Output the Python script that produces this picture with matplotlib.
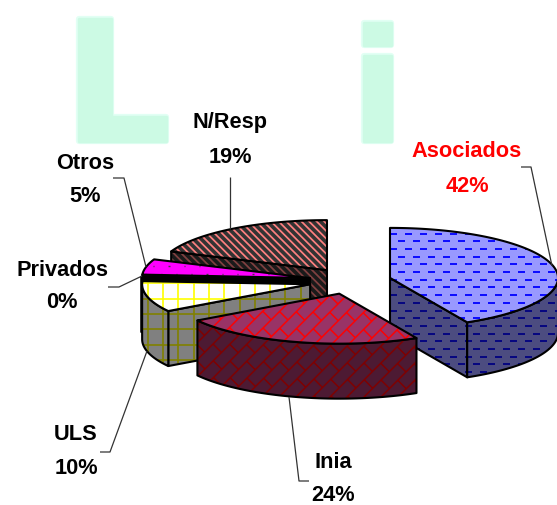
import numpy as np
import matplotlib
matplotlib.use("Agg")
import matplotlib.pyplot as plt
import matplotlib.patheffects as pe
from matplotlib.patches import Polygon
from matplotlib.collections import LineCollection

categories = ["Asociados", "Inia", "ULS", "Privados", "Otros", "N/Resp"]
values = [42.4, 23.6, 10, 0.1, 5, 18.9]
percent_labels = ["42%", "24%", "10%", "0%", "5%", "19%"]

fig = plt.figure(figsize=(5.57, 5.06), dpi=100)
ax = fig.add_axes([0, 0, 1, 1])
ax.set_xlim(0, 557); ax.set_ylim(506, 0); ax.axis("off")

# watermark letters
for ch, x, ha, fs in [("L", 64, "left", 120), ("i", 377.5, "center", 112)]:
    ax.text(x, 142, ch, fontsize=fs, family="DejaVu Sans", weight="bold", color="#CCFAE4",
            ha=ha, va="baseline", zorder=0,
            path_effects=[pe.withStroke(linewidth=4.5, foreground="#E2FFF4"),
                          pe.withStroke(linewidth=2.5, foreground="#CCFAE4")])

CX, CY, RX, RY, DEPTH = 350, 282, 168, 50, 55
EXPLODE = 0.245

X0, X1, Y0, Y1 = 0, 557, 0, 506

def h_dashes(color):
    segs = []
    for r, y in enumerate(np.arange(Y0 + 3.5, Y1, 7.7)):
        off = 7.5 * (r % 2)
        for x in np.arange(X0 + off, X1, 15):
            segs.append([(x, y), (x + 7, y)])
    return segs, 1.3, color

def grid(color):
    segs = [[(x, Y0), (x, Y1)] for x in np.arange(X0 + 10, X1, 15.3)]
    segs += [[(X0, y), (X1, y)] for y in np.arange(Y0 + 9, Y1, 15.3)]
    return segs, 1.2, color

def stripes(color):
    segs = [[(x, Y0), (x + 600, 600)] for x in np.arange(-700, X1, 7.6)]
    return segs, 2.6, color

def brick(color):
    segs = []
    row = 17.0
    period = 33.0
    for r, s in enumerate(np.arange(-20, 1100, row)):
        segs.append([(s, 0), (s - 600, 600)])
        off = period / 2 * (r % 2)
        for d in np.arange(-660 + off, 660, period):
            px = (s + d) / 2; py = (s - d) / 2
            segs.append([(px, py), (px + row / 2, py + row / 2)])
    return segs, 1.05, color

def dots(color):
    segs = []
    for r, y in enumerate(np.arange(Y0 + 5, Y1, 7.7)):
        off = 7.6 * (r % 2)
        for x in np.arange(X0 + off, X1, 15.3):
            segs.append([(x, y), (x + 1.2, y)])
    return segs, 1.0, color

styles = {
    "Asociados": ("#9999FF", "#4C4C80", h_dashes, "#0000FF", "#000080"),
    "Inia": ("#993366", "#4D1A33", brick, "#FF0000", "#800000"),
    "ULS": ("#FFFFFF", "#808080", grid, "#FFFF00", "#808000"),
    "Privados": ("#000000", "#000000", stripes, "#000000", "#000000"),
    "Otros": ("#FF00FF", "#800080", dots, "#404040", "#202020"),
    "N/Resp": ("#FF8080", "#804040", stripes, "#333333", "#1A1A1A"),
}

def face(pts, fill, hatch, hcolor, z):
    poly = Polygon(pts, closed=True, facecolor=fill, edgecolor="none", zorder=z)
    ax.add_patch(poly)
    segs, lw, col = hatch(hcolor)
    lc = LineCollection(segs, colors=col, linewidths=lw, zorder=z, capstyle="butt")
    ax.add_collection(lc)
    lc.set_clip_path(poly)
    ax.add_patch(Polygon(pts, closed=True, facecolor="none", edgecolor="black",
                         linewidth=1.5, joinstyle="round", zorder=z))

total = sum(values)
edges = np.concatenate([[0], np.cumsum(values)]) / total * 360.0
order = [5, 4, 3, 2, 0, 1]

for k, i in enumerate(order):
    name = categories[i]
    a1, a2 = edges[i], edges[i + 1]
    mid = np.radians((a1 + a2) / 2)
    ax_c = CX + EXPLODE * RX * np.sin(mid)
    ay_c = CY - EXPLODE * RY * 1.07 * np.cos(mid)
    def rim(theta):
        t = np.radians(theta)
        return np.column_stack([ax_c + RX * np.sin(t), ay_c - RY * np.cos(t)])
    top_col, wall_col, hatch, hc_top, hc_wall = styles[name]
    z = 2 + k * 3
    apex = np.array([[ax_c, ay_c]])
    down = np.array([0, DEPTH])
    for th, vis in [(a1, np.sin(np.radians(a1)) < 0), (a2, np.sin(np.radians(a2)) > 0)]:
        if vis:
            p = rim(np.array([th]))
            face(np.vstack([apex, p, p + down, apex + down]), wall_col, hatch, hc_wall, z)
    lo, hi = max(a1, 90), min(a2, 270)
    if hi > lo:
        arc = rim(np.linspace(lo, hi, 80))
        face(np.vstack([arc, (arc + down)[::-1]]), wall_col, hatch, hc_wall, z + 1)
    arc = rim(np.linspace(a1, a2, 120))
    face(np.vstack([apex, arc]), top_col, hatch, hc_top, z + 2)

# leader lines and labels
leaders = [
    ([521, 531, 552], [168, 168, 267]),
    ([230, 230], [178, 230]),
    ([113, 124, 146], [179, 179, 268]),
    ([108, 119, 142], [288, 288, 277]),
    ([100, 110, 147], [453, 453, 352]),
    ([289, 299, 309], [398, 482, 482]),
]
for xs, ys in leaders:
    ax.plot(xs, ys, color="#333333", lw=0.9, zorder=40, solid_capstyle="butt")

label_xy = {
    "Asociados": (467, 151), "Inia": (333, 463), "ULS": (76, 435),
    "Privados": (62, 270), "Otros": (85, 163), "N/Resp": (230, 122),
}
gap = {"Asociados": 35, "Inia": 33, "ULS": 34, "Privados": 33, "Otros": 33, "N/Resp": 35}
for c, p in zip(categories, percent_labels):
    x, y = label_xy[c]
    col = "red" if c == "Asociados" else "black"
    for txt, yy in [(c, y), (p, y + gap[c])]:
        ax.text(x, yy, txt, fontsize=15.7, family="Liberation Sans", weight="bold",
                color=col, ha="center", va="center", zorder=50)

fig.savefig("out.png", dpi=100, facecolor="white")
